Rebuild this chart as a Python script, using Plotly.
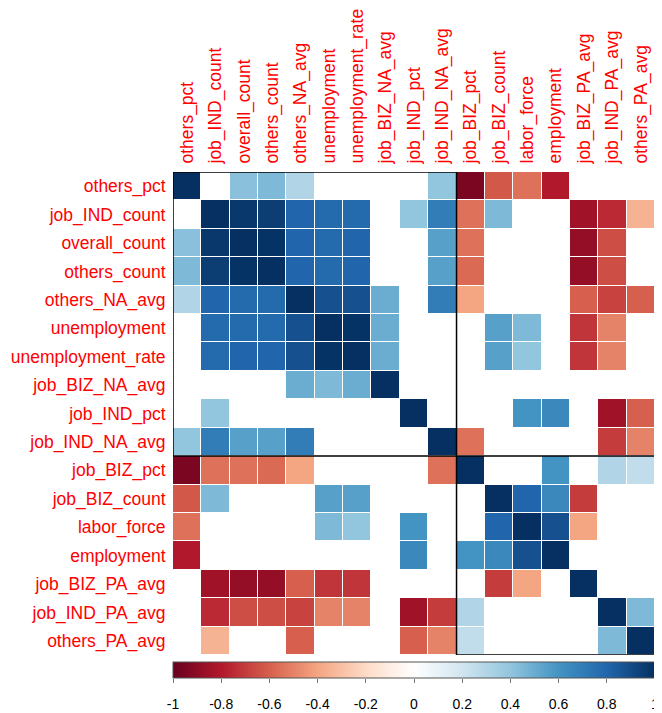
import plotly.graph_objects as go

labels = ["others_pct", "job_IND_count", "overall_count", "others_count", "others_NA_avg",
          "unemployment", "unemployment_rate", "job_BIZ_NA_avg", "job_IND_pct", "job_IND_NA_avg",
          "job_BIZ_pct", "job_BIZ_count", "labor_force", "employment", "job_BIZ_PA_avg",
          "job_IND_PA_avg", "others_PA_avg"]

N = None
r_others_pct        = [1, N, 0.42, 0.45, 0.30, N, N, N, N, 0.40, -0.95, -0.62, -0.55, -0.80, N, N, N]
r_job_IND_count     = [N, 1, 0.97, 0.95, 0.80, 0.78, 0.78, N, 0.40, 0.70, -0.55, 0.45, N, N, -0.85, -0.75, -0.35]
r_overall_count     = [0.42, 0.97, 1, 0.99, 0.80, 0.78, 0.80, N, N, 0.55, -0.55, N, N, N, -0.88, -0.65, N]
r_others_count      = [0.45, 0.95, 0.99, 1, 0.80, 0.78, 0.80, N, N, 0.55, -0.57, N, N, N, -0.88, -0.65, N]
r_others_NA_avg     = [0.30, 0.80, 0.78, 0.78, 1, 0.88, 0.88, 0.50, N, 0.70, -0.40, N, N, N, -0.60, -0.68, -0.60]
r_unemployment      = [N, 0.78, 0.78, 0.78, 0.88, 1, 0.99, 0.50, N, N, N, 0.55, 0.45, N, -0.72, -0.50, N]
r_unemployment_rate = [N, 0.78, 0.80, 0.80, 0.88, 0.99, 1, 0.50, N, N, N, 0.55, 0.40, N, -0.72, -0.50, N]
r_job_BIZ_NA_avg    = [N, N, N, N, 0.50, 0.45, 0.50, 1, N, N, N, N, N, N, N, N, N]
r_job_IND_pct       = [N, 0.40, N, N, N, N, N, N, 1, N, N, N, 0.60, 0.65, N, -0.85, -0.60]
r_job_IND_NA_avg    = [0.40, 0.70, 0.55, 0.55, 0.70, N, N, N, N, 1, -0.55, N, N, N, N, -0.70, -0.50]
r_job_BIZ_pct       = [-0.95, -0.55, -0.55, -0.57, -0.40, N, N, N, N, -0.55, 1, N, N, 0.60, N, 0.30, 0.25]
r_job_BIZ_count     = [-0.62, 0.45, N, N, N, 0.55, 0.55, N, N, N, N, 1, 0.80, 0.65, -0.70, N, N]
r_labor_force       = [-0.55, N, N, N, N, 0.45, 0.40, N, 0.60, N, N, 0.80, 1, 0.88, -0.40, N, N]
r_employment        = [-0.80, N, N, N, N, N, N, N, 0.65, N, 0.60, 0.65, 0.88, 1, N, N, N]
r_job_BIZ_PA_avg    = [N, -0.85, -0.88, -0.88, -0.60, -0.72, -0.72, N, N, N, N, -0.70, -0.40, N, 1, N, N]
r_job_IND_PA_avg    = [N, -0.75, -0.65, -0.65, -0.68, -0.50, -0.50, N, -0.85, -0.70, 0.30, N, N, N, N, 1, 0.45]
r_others_PA_avg     = [N, -0.35, N, N, -0.60, N, N, N, -0.60, -0.50, 0.25, N, N, N, N, 0.45, 1]

matrix = [r_others_pct, r_job_IND_count, r_overall_count, r_others_count, r_others_NA_avg,
          r_unemployment, r_unemployment_rate, r_job_BIZ_NA_avg, r_job_IND_pct, r_job_IND_NA_avg,
          r_job_BIZ_pct, r_job_BIZ_count, r_labor_force, r_employment, r_job_BIZ_PA_avg,
          r_job_IND_PA_avg, r_others_PA_avg]

cluster_sizes = [10, 7]
cbar_ticks = [-1, -0.8, -0.6, -0.4, -0.2, 0, 0.2, 0.4, 0.6, 0.8, 1]

rdbu = ["#67001F", "#B2182B", "#D6604D", "#F4A582", "#FDDBC7", "#FFFFFF",
        "#D1E5F0", "#92C5DE", "#4393C3", "#2166AC", "#053061"]
colorscale = [[i / 10, c] for i, c in enumerate(rdbu)]

n = len(labels)
idx = list(range(n))

# page has an 8px body margin; the figure is sized/offset to compensate
W, H = 654, 705
ML, MR, MT, MB = 165, 7, 164, 0
area_h = H - MT - MB          # 541 px of paper area
grid_bottom = 58              # px from bottom of paper area to bottom of the grid
bar_gap, bar_th = 7, 16

cbar = dict(
    orientation="h", x=0.5, xanchor="center",
    y=(grid_bottom - bar_gap) / area_h, yanchor="top",
    len=482, lenmode="pixels", thickness=bar_th, thicknessmode="pixels",
    outlinewidth=1, outlinecolor="#555555",
    tickvals=cbar_ticks, showticklabels=False, ticks="",
    xpad=0, ypad=0,
)

fig = go.Figure()
fig.add_trace(go.Heatmap(
    z=matrix, x=idx, y=idx, zmin=-1, zmax=1, colorscale=colorscale,
    xgap=1, ygap=1, hoverongaps=False, colorbar=cbar,
))
# empty carrier trace so the colour-bar scale axis is drawn
fig.add_trace(go.Scatter(x=[], y=[], xaxis="x2", yaxis="y", showlegend=False, hoverinfo="skip"))

shapes = []
start = 0
for s in cluster_sizes:
    shapes.append(dict(type="rect", xref="x", yref="y",
                       x0=start - 0.5, x1=start + s - 0.5, y0=start - 0.5, y1=start + s - 0.5,
                       line=dict(color="black", width=1.5), fillcolor="rgba(0,0,0,0)"))
    start += s

lab_font = dict(family="Liberation Sans, Arial", size=17.5, color="#FF0000")
fig.update_layout(
    width=W, height=H,
    margin=dict(l=ML, r=MR, t=MT, b=MB, autoexpand=False),
    plot_bgcolor="rgba(0,0,0,0)", paper_bgcolor="white",
    shapes=shapes,
    xaxis=dict(range=[-0.5, n - 0.5], side="top", tickmode="array", tickvals=idx, ticktext=labels,
               tickangle=-90, tickfont=lab_font, showgrid=False, zeroline=False, automargin=False,
               ticks="outside", ticklen=4, tickcolor="rgba(0,0,0,0)", showline=False),
    yaxis=dict(range=[n - 0.5, -0.5], domain=[grid_bottom / area_h, 1], tickmode="array",
               tickvals=idx, ticktext=labels,
               tickfont=lab_font, showgrid=False, zeroline=False, automargin=False,
               ticks="outside", ticklen=3, tickcolor="rgba(0,0,0,0)", showline=False),
    xaxis2=dict(range=[-1, 1], domain=[0, 1], anchor="free",
                position=(grid_bottom - bar_gap - bar_th) / area_h, side="bottom",
                tickmode="array", tickvals=cbar_ticks, ticktext=[("%g" % v) for v in cbar_ticks],
                ticks="outside", ticklen=4, tickcolor="#777777",
                tickfont=dict(family="Liberation Sans, Arial", size=14, color="#000000"),
                ticklabelstandoff=9, ticklabeloverflow="allow",
                showgrid=False, zeroline=False, showline=False, automargin=False, fixedrange=True),
)

fig.write_html("out.html")
